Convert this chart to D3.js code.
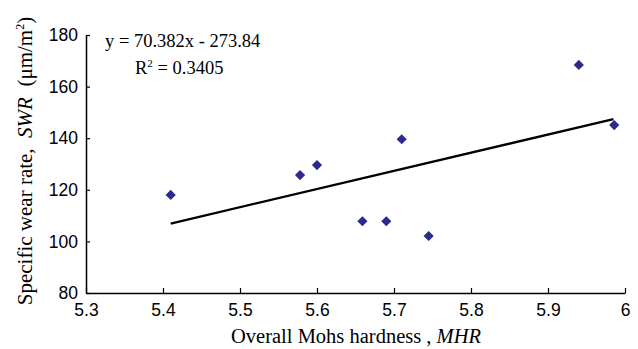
<!DOCTYPE html>
<html>
<head>
<meta charset="utf-8">
<script src="https://cdn.jsdelivr.net/npm/d3@7"></script>
<style>
  body { margin: 0; background: #fff; }
  svg { display: block; }
</style>
</head>
<body>
<div id="chart"></div>
<script>
var mhr = [5.41, 5.578, 5.60, 5.659, 5.69, 5.745, 5.71, 5.94, 5.986];
var swr = [118.0, 125.7, 129.6, 107.8, 107.8, 102.1, 139.6, 168.4, 145.1];
var xTicks = [5.3, 5.4, 5.5, 5.6, 5.7, 5.8, 5.9, 6];
var yTicks = [80, 100, 120, 140, 160, 180];
// linear fit as printed on the chart
var slope = 70.382, intercept = -273.84;
var fitRange = [5.41, 5.985];

var width = 638, height = 349;
var margin = {top: 35, right: 13, bottom: 56, left: 86};

var svg = d3.select('#chart').append('svg')
    .attr('width', width)
    .attr('height', height);

var x = d3.scaleLinear().domain([5.3, 6]).range([margin.left, width - margin.right]);
var y = d3.scaleLinear().domain([80, 180]).range([height - margin.bottom, margin.top]);

// axes, ticks pointing inward
svg.append('g')
    .attr('transform', 'translate(0,' + (height - margin.bottom) + ')')
    .call(d3.axisBottom(x).tickValues(xTicks).tickSizeInner(-5).tickSizeOuter(0).tickPadding(11)
        .tickFormat(function(d){ return d === 6 ? '6' : d3.format('.1f')(d); }));
svg.append('g')
    .attr('transform', 'translate(' + margin.left + ',0)')
    .call(d3.axisLeft(y).tickValues(yTicks).tickSizeInner(-4).tickSizeOuter(0).tickPadding(8));

svg.selectAll('.domain').attr('stroke', '#000').attr('stroke-width', 1.5);
svg.selectAll('.tick line').attr('stroke', '#000').attr('stroke-width', 1.2);
svg.selectAll('.tick text')
    .style('font-family', '"Liberation Sans", Arial, sans-serif')
    .style('font-size', '17.5px')
    .attr('fill', '#000');

// trend line
svg.append('line')
    .attr('x1', x(fitRange[0]))
    .attr('y1', y(slope * fitRange[0] + intercept))
    .attr('x2', x(fitRange[1]))
    .attr('y2', y(slope * fitRange[1] + intercept))
    .attr('stroke', '#000')
    .attr('stroke-width', 2.3);

// data markers (diamonds)
var diamond = d3.symbol().type(d3.symbolSquare).size(52);
svg.selectAll('.pt').data(mhr).enter()
    .append('path')
    .attr('class', 'pt')
    .attr('d', diamond)
    .attr('transform', function(d, i){
        return 'translate(' + x(d) + ',' + y(swr[i]) + ') rotate(45)';
    })
    .attr('fill', '#2e2a8c');

// equation text
var serif = '"Liberation Serif", "Times New Roman", serif';
svg.append('text')
    .attr('x', 105).attr('y', 47)
    .style('font-family', serif).style('font-size', '18.5px')
    .text('y = 70.382x - 273.84');
var r2 = svg.append('text')
    .attr('x', 135).attr('y', 74)
    .style('font-family', serif).style('font-size', '18.5px');
r2.append('tspan').text('R');
r2.append('tspan').attr('dy', -7).style('font-size', '11px').text('2');
r2.append('tspan').attr('dy', 7).text(' = 0.3405');

// axis titles
var xt = svg.append('text')
    .attr('x', 356).attr('y', 343)
    .attr('text-anchor', 'middle')
    .style('font-family', serif).style('font-size', '20.5px');
xt.append('tspan').text('Overall Mohs hardness , ');
xt.append('tspan').style('font-style', 'italic').text('MHR');

var yt = svg.append('text')
    .attr('transform', 'translate(32,161) rotate(-90)')
    .attr('text-anchor', 'middle')
    .style('font-family', serif).style('font-size', '21px');
yt.append('tspan').text('Specific wear rate,\u00a0 ');
yt.append('tspan').style('font-style', 'italic').text('SWR');
yt.append('tspan').text('\u00a0 (\u03bcm/m');
yt.append('tspan').attr('dy', -8).style('font-size', '12px').text('2');
yt.append('tspan').attr('dy', 8).text(')');
</script>
</body>
</html>
